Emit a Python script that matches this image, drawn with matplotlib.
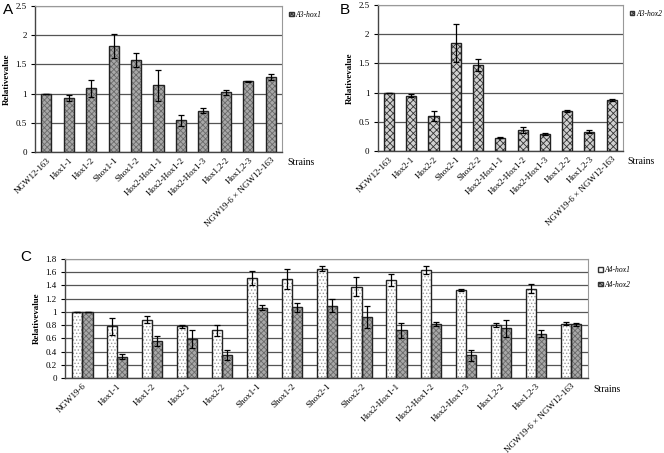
import numpy as np
import matplotlib
matplotlib.use("Agg")
import matplotlib.pyplot as plt
from matplotlib.patches import Patch

plt.rcParams['font.family'] = ['Liberation Serif', 'DejaVu Serif']
plt.rcParams['hatch.linewidth'] = 0.6

########## DATOS ##########

# Panel A: A3-hox1
strains_a = ['NGW12-163', 'Hox1-1', 'Hox1-2', 'Shox1-1', 'Shox1-2', 'Hox2-Hox1-1',
             'Hox2-Hox1-2', 'Hox2-Hox1-3', 'Hox1,2-2', 'Hox1,2-3', 'NGW19-6 \u00d7 NGW12-163']
val_a = [1.0, 0.93, 1.09, 1.82, 1.58, 1.14, 0.54, 0.71, 1.02, 1.21, 1.28]
err_a = [0.0, 0.05, 0.14, 0.21, 0.12, 0.26, 0.10, 0.05, 0.05, 0.01, 0.05]

# Panel B: A3-hox2
strains_b = ['NGW12-163', 'Hox2-1', 'Hox2-2', 'Shox2-1', 'Shox2-2', 'Hox2-Hox1-1',
             'Hox2-Hox1-2', 'Hox2-Hox1-3', 'Hox1,2-2', 'Hox1,2-3', 'NGW19-6 \u00d7 NGW12-163']
val_b = [1.0, 0.95, 0.60, 1.85, 1.47, 0.23, 0.36, 0.29, 0.69, 0.33, 0.87]
err_b = [0.0, 0.03, 0.09, 0.33, 0.10, 0.01, 0.05, 0.01, 0.02, 0.03, 0.02]

# Panel C: A4-hox1 / A4-hox2
strains_c = ['NGW19-6', 'Hox1-1', 'Hox1-2', 'Hox2-1', 'Hox2-2', 'Shox1-1', 'Shox1-2',
             'Shox2-1', 'Shox2-2', 'Hox2-Hox1-1', 'Hox2-Hox1-2', 'Hox2-Hox1-3',
             'Hox1,2-2', 'Hox1,2-3', 'NGW19-6 \u00d7 NGW12-163']
hox1_c = [1.0, 0.78, 0.88, 0.78, 0.72, 1.51, 1.49, 1.65, 1.38, 1.48, 1.63, 1.33, 0.80, 1.35, 0.82]
hox1_err = [0.0, 0.13, 0.05, 0.02, 0.08, 0.10, 0.15, 0.04, 0.14, 0.09, 0.06, 0.02, 0.03, 0.07, 0.02]
hox2_c = [1.0, 0.32, 0.56, 0.59, 0.35, 1.06, 1.07, 1.09, 0.92, 0.72, 0.81, 0.34, 0.75, 0.67, 0.81]
hox2_err = [0.0, 0.04, 0.07, 0.14, 0.08, 0.04, 0.07, 0.10, 0.17, 0.11, 0.03, 0.08, 0.13, 0.05, 0.02]


def barras(ax, x, y, e, w, fc, hc, hatch):
    # relleno con trama y luego borde negro encima
    ax.bar(x, y, w, color=fc, edgecolor=hc, hatch=hatch, linewidth=0, zorder=2)
    ax.bar(x, y, w, fill=False, edgecolor='#222222', linewidth=1.0, zorder=3)
    ax.errorbar(x, y, yerr=e, fmt='none', ecolor='black', elinewidth=0.9,
                capsize=2.2, capthick=0.9, zorder=4)


def ejes(ax, labels, ymax, step):
    ax.set_ylim(0, ymax)
    ticks = np.round(np.arange(0, ymax + 1e-9, step), 2)
    ax.set_yticks(ticks)
    ax.set_yticklabels(['%g' % t for t in ticks], fontsize=6.5)
    ax.yaxis.grid(True, color='#555555', linewidth=0.9, zorder=0)
    ax.set_axisbelow(True)
    ax.set_xticks(np.arange(len(labels)))
    ax.set_xticklabels(labels, rotation=45, ha='right', rotation_mode='anchor', fontsize=6.5)
    ax.tick_params(axis='x', length=0, pad=3)
    ax.tick_params(axis='y', length=3, width=0.8, direction='out', pad=3)
    ax.set_xlim(-0.5, len(labels) - 0.5)
    for s in ['top', 'right']:
        ax.spines[s].set_color('#999999')
    for s in ['left', 'bottom']:
        ax.spines[s].set_color('#444444')
        ax.spines[s].set_linewidth(1.0)
    ax.set_ylabel('Relativevalue', fontsize=6.5, fontweight='bold', labelpad=3)


def leyenda(ax, handles, y0):
    ax.legend(handles=handles, loc='upper left', bbox_to_anchor=(1.01, y0), frameon=False,
              handlelength=0.6, handleheight=0.6, handletextpad=0.2, labelspacing=0.9,
              borderaxespad=0.2, prop={'size': 5.5, 'style': 'italic'})


fig = plt.figure(figsize=(6.64, 4.53), dpi=100)

########## PANEL A ##########
axA = fig.add_axes([0.0527, 0.6645, 0.372, 0.322])
x = np.arange(len(strains_a))
barras(axA, x, val_a, err_a, 0.45, '#a8a8a8', '#6a6a6a', 'xxxxxx')
ejes(axA, strains_a, 2.5, 0.5)
leyenda(axA, [Patch(facecolor='#a8a8a8', edgecolor='#333333', hatch='xxxxxx', label='A3-hox1')], 1.0)
axA.text(1.02, -0.07, 'Strains', transform=axA.transAxes, fontsize=7, va='center')
fig.text(0.004, 0.978, 'A', fontsize=11, family='Liberation Sans', va='center')

########## PANEL B ##########
axB = fig.add_axes([0.569, 0.6667, 0.369, 0.322])
x = np.arange(len(strains_b))
barras(axB, x, val_b, err_b, 0.45, '#d0d0d0', '#333333', 'xxxxx')
ejes(axB, strains_b, 2.5, 0.5)
leyenda(axB, [Patch(facecolor='#d0d0d0', edgecolor='#333333', hatch='xxxxx', label='A3-hox2')], 1.0)
axB.text(1.02, -0.07, 'Strains', transform=axB.transAxes, fontsize=7, va='center')
fig.text(0.512, 0.978, 'B', fontsize=11, family='Liberation Sans', va='center')

########## PANEL C ##########
axC = fig.add_axes([0.0979, 0.1656, 0.788, 0.263])
x = np.arange(len(strains_c))
w = 0.29
barras(axC, x - w / 2, hox1_c, hox1_err, w, 'white', '#9a9a9a', '.....')
barras(axC, x + w / 2, hox2_c, hox2_err, w, '#a8a8a8', '#6a6a6a', 'xxxxxx')
ejes(axC, strains_c, 1.8, 0.2)
leyenda(axC, [Patch(facecolor='white', edgecolor='#333333', label='A4-hox1'),
              Patch(facecolor='#a8a8a8', edgecolor='#333333', hatch='xxxxxx', label='A4-hox2')], 0.98)
axC.text(1.01, -0.10, 'Strains', transform=axC.transAxes, fontsize=7, va='center')
fig.text(0.03, 0.432, 'C', fontsize=11, family='Liberation Sans', va='center')

plt.savefig('out.png', dpi=100)
